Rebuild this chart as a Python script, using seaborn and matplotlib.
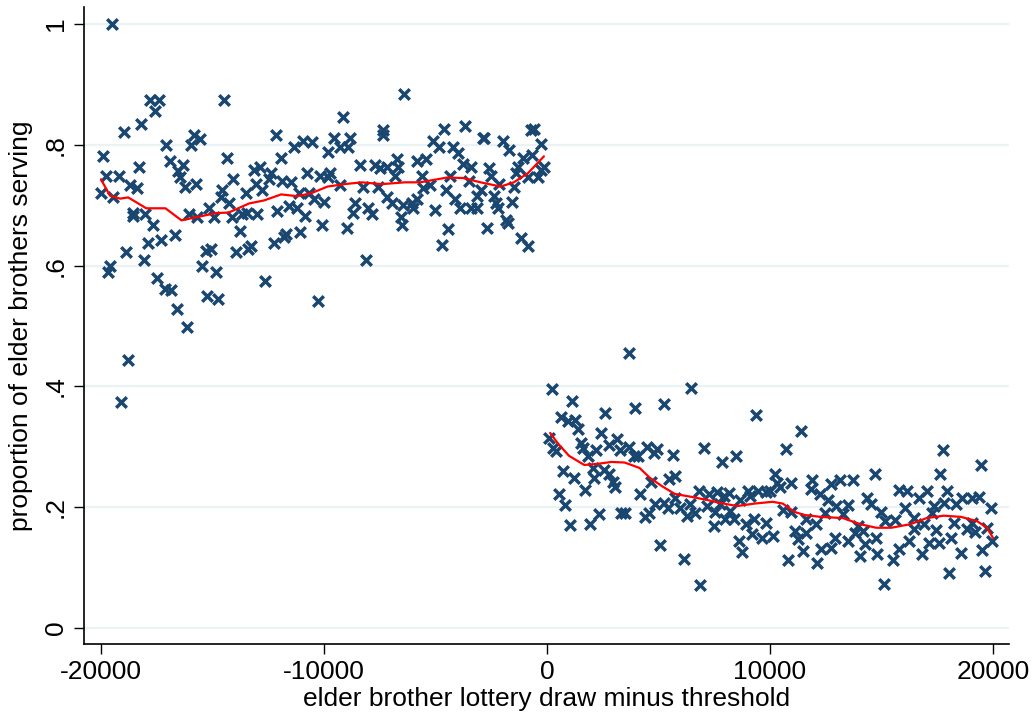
import matplotlib
matplotlib.use("Agg")
import matplotlib.pyplot as plt
import seaborn as sns
import pandas as pd

# points left of the threshold (draw, share serving)
left_x = [-17790, -17380, -17560, -14490, -18200, -18960, -15850, -15580, -15980, -17070,
          -19910, -14360, -16890, -16340, -18290, -16530, -19780, -19190, -16440, -14090,
          -18690, -18380, -16250, -15760, -20000, -14580, -14630, -19460, -14270, -13500,
          -15170, -18560, -18560, -18020, -16070, -15710, -14950, -14130, -13680, -17650,
          -13770, -16660, -17880, -17290, -15310, -15080, -18870, -18060, -13950, -13410,
          -15490, -14850, -19600, -19690, -17470, -17110, -16840, -15260, -14760, -16570,
          -16160, -18780, -19100, -19510,
          -6410, -9170, -12150, -7360, -7360, -11330, -10930, -10520, -9530, -8850,
          -9300, -8940, -9840, -11920, -13140, -12870, -12370, -12460, -13050, -12780,
          -11870, -11470, -10750, -10160, -9710, -9840, -8400, -7720, -7500, -7180,
          -6730, -6680, -6820, -9300, -8260, -7590, -11110, -10660, -10430, -9980,
          -7180, -6950, -13460, -13000, -12100, -11560, -11200, -10840, -8620, -8710,
          -8040, -7860, -6550, -6500, -10070, -8990, -11690, -11780, -11060, -12240,
          -13270, -8130, -12640, -10250,
          -4610, -3700, -2840, -2890, -720, -590, -5100, -4830, -4200, -3970,
          -1990, -1720, -270, -5820, -5420, -3790, -3430, -2620, -2530, -1080,
          -680, -1310, -1400, -270, -140, -410, -5600, -5240, -5550, -4330,
          -3520, -2170, -860, -4520, -4110, -2980, -3120, -2390, -1490, -6460,
          -6050, -5820, -6010, -5010, -3880, -3430, -3160, -2300, -2210, -1580,
          -4430, -2710, -1850, -1760, -4700, -1170, -860]
left_y = [0.874, 0.874, 0.856, 0.874, 0.834, 0.822, 0.816, 0.809, 0.799, 0.799,
          0.781, 0.778, 0.773, 0.766, 0.763, 0.756, 0.749, 0.749, 0.746, 0.743,
          0.733, 0.728, 0.731, 0.736, 0.721, 0.725, 0.713, 0.713, 0.703, 0.720,
          0.696, 0.688, 0.683, 0.686, 0.685, 0.680, 0.680, 0.680, 0.686, 0.667,
          0.657, 0.650, 0.638, 0.642, 0.625, 0.628, 0.623, 0.610, 0.622, 0.628,
          0.599, 0.589, 0.600, 0.589, 0.579, 0.562, 0.559, 0.550, 0.544, 0.529,
          0.499, 0.444, 0.375, 1.000,
          0.884, 0.846, 0.816, 0.824, 0.817, 0.796, 0.807, 0.804, 0.812, 0.812,
          0.796, 0.797, 0.789, 0.779, 0.758, 0.763, 0.754, 0.744, 0.736, 0.725,
          0.741, 0.739, 0.753, 0.749, 0.753, 0.746, 0.766, 0.766, 0.761, 0.763,
          0.776, 0.763, 0.749, 0.733, 0.730, 0.731, 0.720, 0.720, 0.711, 0.705,
          0.713, 0.703, 0.688, 0.686, 0.690, 0.698, 0.696, 0.683, 0.703, 0.688,
          0.696, 0.686, 0.680, 0.667, 0.667, 0.662, 0.652, 0.647, 0.655, 0.638,
          0.632, 0.610, 0.575, 0.542,
          0.827, 0.831, 0.812, 0.811, 0.824, 0.827, 0.807, 0.796, 0.796, 0.786,
          0.807, 0.791, 0.802, 0.773, 0.776, 0.769, 0.764, 0.761, 0.749, 0.778,
          0.783, 0.763, 0.753, 0.759, 0.763, 0.746, 0.749, 0.733, 0.728, 0.749,
          0.741, 0.736, 0.746, 0.725, 0.711, 0.725, 0.716, 0.716, 0.730, 0.701,
          0.703, 0.711, 0.696, 0.692, 0.696, 0.695, 0.695, 0.703, 0.696, 0.705,
          0.660, 0.662, 0.675, 0.670, 0.635, 0.645, 0.632]

# points right of the threshold
right_x = [3660, 230, 6460, 1130, 3930, 5240, 2620, 630, 950, 1260,
           1400, 2440, 90, 410, 270, 1540, 1630, 2210, 1850, 2800,
           3120, 3250, 3660, 3880, 4060, 4470, 4920, 4790, 5640, 720,
           1220, 2080, 2120, 2570, 2800, 2940, 3030, 1720, 540, 810,
           4150, 4650, 5460, 5730, 4830, 5240, 5420, 5730, 5960, 6280,
           4380, 4560, 2350, 1940, 1040, 3300, 3480, 5060, 6140,
           9390, 11380, 7040, 10700, 8490, 7860, 10200, 10290, 10930, 11870,
           11830, 12730, 13140, 6820, 7270, 7630, 8170, 7950, 8990, 9440,
           9800, 10020, 10430, 8670, 9080, 12240, 12600, 12960, 6410, 6640,
           7180, 7770, 7540, 8220, 7990, 8400, 10570, 10930, 12460, 13270,
           11600, 7500, 8900, 9300, 9800, 12060, 11110, 11600, 9210, 9660,
           10110, 11240, 8620, 8760, 11470, 12280, 12910, 12730, 10790, 12100,
           6860,
           17740, 19460, 14720, 17610, 13730, 15760, 16120, 17020, 17930, 16660,
           14360, 14540, 13500, 16030, 17340, 17790, 18330, 18600, 19050, 19370,
           19910, 14990, 15170, 15620, 16440, 17250, 18240, 19050, 13950, 13820,
           14180, 16440, 16890, 17430, 18830, 19190, 19730, 13500, 14270, 14760,
           16210, 17110, 17560, 18110, 19950, 15760, 14040, 14810, 15530, 16800,
           18560, 19510, 18020, 19640, 15130]
right_y = [0.456, 0.396, 0.398, 0.376, 0.365, 0.371, 0.356, 0.350, 0.343, 0.345,
           0.330, 0.323, 0.315, 0.293, 0.298, 0.307, 0.298, 0.295, 0.284, 0.303,
           0.313, 0.295, 0.300, 0.285, 0.285, 0.300, 0.297, 0.290, 0.287, 0.260,
           0.249, 0.265, 0.249, 0.262, 0.255, 0.242, 0.234, 0.229, 0.222, 0.204,
           0.222, 0.242, 0.247, 0.252, 0.206, 0.207, 0.199, 0.216, 0.199, 0.186,
           0.184, 0.191, 0.189, 0.172, 0.171, 0.191, 0.191, 0.138, 0.114,
           0.353, 0.327, 0.298, 0.297, 0.285, 0.275, 0.255, 0.240, 0.240, 0.245,
           0.230, 0.239, 0.245, 0.227, 0.222, 0.225, 0.224, 0.219, 0.227, 0.227,
           0.225, 0.227, 0.234, 0.212, 0.219, 0.222, 0.212, 0.202, 0.206, 0.191,
           0.202, 0.206, 0.192, 0.194, 0.181, 0.181, 0.196, 0.192, 0.191, 0.189,
           0.181, 0.169, 0.172, 0.181, 0.174, 0.172, 0.161, 0.158, 0.156, 0.149,
           0.153, 0.148, 0.144, 0.126, 0.128, 0.131, 0.149, 0.133, 0.113, 0.108,
           0.071,
           0.295, 0.270, 0.255, 0.255, 0.245, 0.229, 0.227, 0.227, 0.227, 0.216,
           0.216, 0.206, 0.204, 0.199, 0.202, 0.207, 0.206, 0.216, 0.216, 0.217,
           0.199, 0.192, 0.177, 0.179, 0.182, 0.191, 0.174, 0.174, 0.169, 0.158,
           0.161, 0.164, 0.172, 0.163, 0.164, 0.159, 0.166, 0.144, 0.139, 0.149,
           0.144, 0.141, 0.141, 0.149, 0.144, 0.131, 0.119, 0.123, 0.113, 0.123,
           0.124, 0.129, 0.091, 0.095, 0.073]

# smoothed fit on each side
fit_left_x = [-20000, -19600, -19140, -18780, -17970, -17110, -16390, -15760, -14850, -14270,
              -13360, -12690, -11920, -11200, -10570, -9840, -9080, -8310, -7410, -6370,
              -5690, -4470, -3750, -2980, -2080, -1490, -860, -140]
fit_left_y = [0.743, 0.716, 0.711, 0.713, 0.695, 0.695, 0.675, 0.680, 0.687, 0.688,
              0.703, 0.708, 0.718, 0.715, 0.720, 0.731, 0.735, 0.738, 0.735, 0.738,
              0.738, 0.746, 0.745, 0.738, 0.731, 0.738, 0.753, 0.781]
fit_right_x = [140, 500, 990, 1670, 2300, 2890, 3480, 4150, 4600, 5150,
               5730, 6500, 7180, 7770, 8530, 9300, 10110, 10570, 11110, 11560,
               12280, 13270, 14040, 14760, 15440, 16300, 17020, 17790, 18560, 19280,
               19730, 20000]
fit_right_y = [0.323, 0.305, 0.285, 0.270, 0.272, 0.275, 0.274, 0.265, 0.249, 0.235,
               0.222, 0.217, 0.212, 0.207, 0.202, 0.206, 0.209, 0.206, 0.192, 0.187,
               0.184, 0.182, 0.172, 0.166, 0.166, 0.172, 0.182, 0.186, 0.184, 0.177,
               0.166, 0.149]

navy = "#1a476f"
grid_col = "#eaf2f3"

pts = pd.DataFrame({"draw": left_x + right_x, "share": left_y + right_y})
fit_l = pd.DataFrame({"draw": fit_left_x, "share": fit_left_y})
fit_r = pd.DataFrame({"draw": fit_right_x, "share": fit_right_y})

sns.set_style("white")
plt.rcParams["font.family"] = ["Liberation Sans", "DejaVu Sans"]
plt.rcParams["text.color"] = "black"
plt.rcParams["axes.labelcolor"] = "black"
plt.rcParams["xtick.color"] = "black"
plt.rcParams["ytick.color"] = "black"

fig, ax = plt.subplots(figsize=(10.35, 7.19), dpi=100)
fig.subplots_adjust(left=0.0812, right=0.975, bottom=0.1043, top=0.990)

sns.scatterplot(data=pts, x="draw", y="share", marker="x", s=58,
                color=navy, linewidth=2.5, ax=ax, zorder=3)
for fit in (fit_l, fit_r):
    sns.lineplot(data=fit, x="draw", y="share", color="red", lw=1.6,
                 sort=False, estimator=None, ax=ax, zorder=4)

ax.set_xlim(-20760, 20720)
ax.set_ylim(-0.0265, 1.028)
ax.set_xticks([-20000, -10000, 0, 10000, 20000])
ax.set_xticklabels(["-20000", "-10000", "0", "10000", "20000"])
ax.set_yticks([0, 0.2, 0.4, 0.6, 0.8, 1])
ax.set_yticklabels(["0", ".2", ".4", ".6", ".8", "1"], rotation=90, va="center")
ax.yaxis.grid(True, color=grid_col, lw=1.6)
ax.xaxis.grid(False)
ax.set_axisbelow(True)

for side in ("top", "right"):
    ax.spines[side].set_visible(False)
for side in ("left", "bottom"):
    ax.spines[side].set_color("black")
    ax.spines[side].set_linewidth(1.2)

ax.tick_params(axis="both", direction="out", length=7.5, width=1.0,
               color="black", labelcolor="black", labelsize=19, pad=4,
               left=True, bottom=True)
ax.set_xlabel("elder brother lottery draw minus threshold", fontsize=19, labelpad=2)
ax.set_ylabel("proportion of elder brothers serving", fontsize=19, labelpad=8)

plt.savefig("out.png", dpi=100)
